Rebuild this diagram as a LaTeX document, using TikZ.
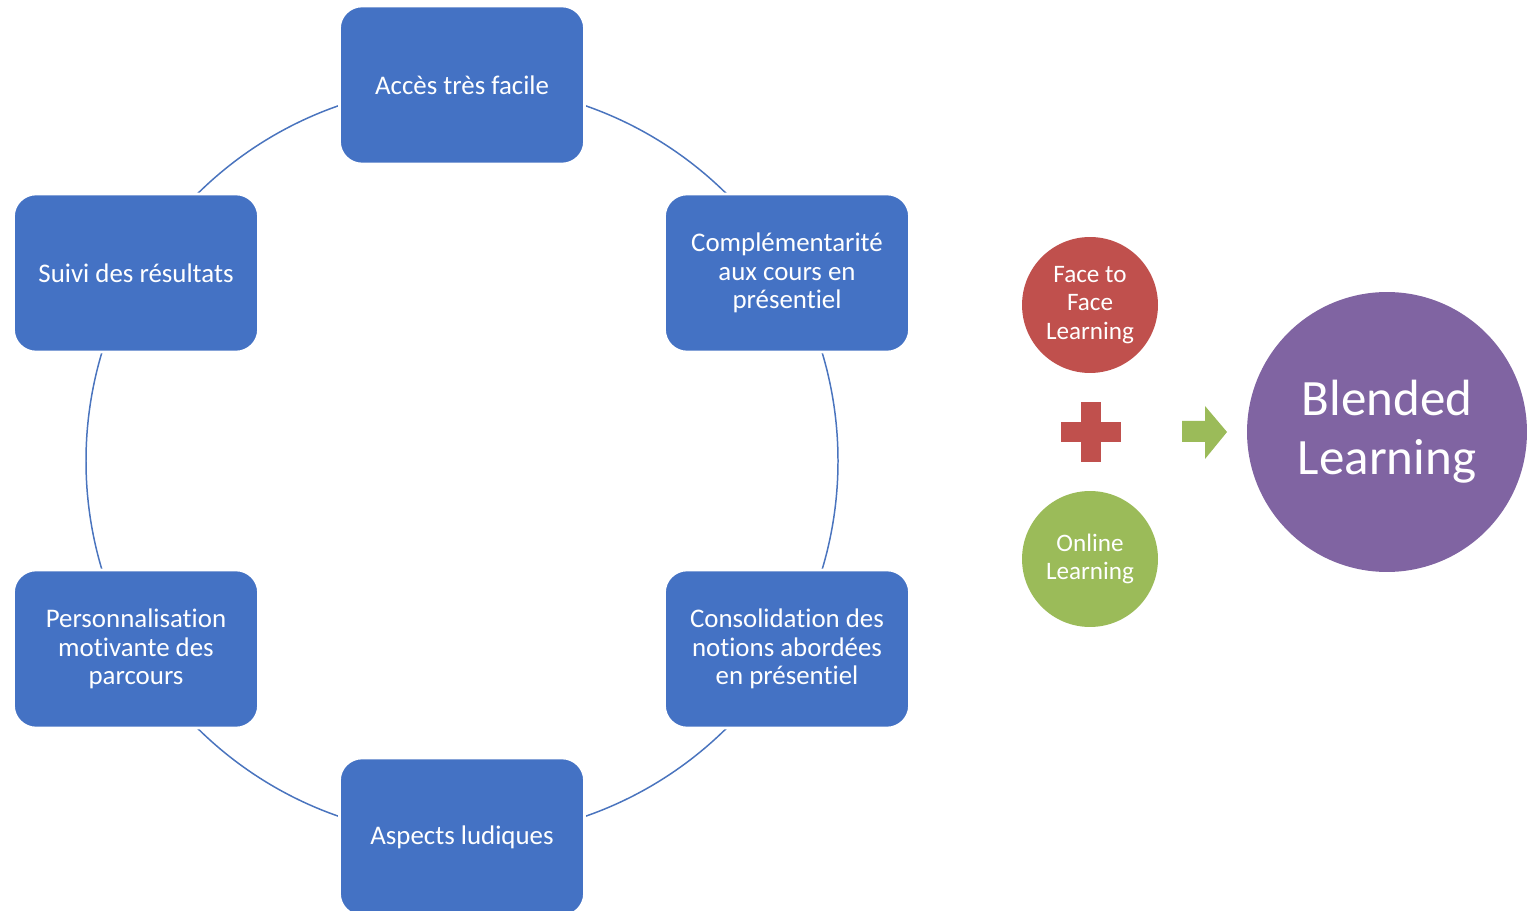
\documentclass[tikz,border=0pt]{standalone}
\usepackage{fontspec}
\setmainfont{Carlito}[RawFeature=-liga]
\usetikzlibrary{positioning}
\definecolor{boxblue}{HTML}{4472C4}
\definecolor{ringblue}{HTML}{4A74BE}
\definecolor{facered}{HTML}{C0504D}
\definecolor{onlinegreen}{HTML}{9BBB59}
\definecolor{blendpurple}{HTML}{8064A2}

\begin{document}
\begin{tikzpicture}[x=0.02cm, y=-0.02cm,
  stage/.style={draw=white, line width=1.5pt, fill=boxblue, rounded corners=0.45cm, minimum width=4.9cm, minimum height=3.16cm, align=center, text=white, font=\fontsize{15.3}{16.4}\selectfont},
  mode/.style={circle, fill=#1, minimum size=2.72cm, inner sep=0pt, align=center, text=white, font=\fontsize{14.3}{16.4}\selectfont},
  ring/.style={draw=ringblue, line width=0.85pt}]
\useasboundingbox (0,0) rectangle (1534,911);

% Cycle
\coordinate (hub) at (462,461);
\draw[ring] (hub) circle[radius=376];
\node (acces) at (462,85) [stage] {Accès très facile};
\node (compl) at (787,273) [stage] {Complémentarité\\aux cours en\\présentiel};
\node (conso) at (787,649) [stage] {Consolidation des\\notions abordées\\en présentiel};
\node (ludi) at (462,837) [stage] {Aspects ludiques};
\node (perso) at (136,649) [stage] {Personnalisation\\motivante des\\parcours};
\node (suivi) at (136,273) [stage] {Suivi des résultats};

% Blended side
\node (face) at (1090,305) [mode=facered] {Face to\\Face\\Learning};
\node (online) at (1090,559) [mode=onlinegreen] {Online\\Learning};
\fill[facered] (1061,422) rectangle (1121,442);
\fill[facered] (1081,402) rectangle (1101,462);
\fill[onlinegreen] (1182,421) -- (1205,421) -- (1205,406) -- (1227,432) -- (1205,459) -- (1205,442) -- (1182,442) -- cycle;
\node (blend) at (1387,432) [circle, fill=blendpurple, minimum size=5.6cm, inner sep=0pt, align=center, text=white, font=\fontsize{29}{33.5}\selectfont] {Blended\\Learning};
\end{tikzpicture}
\end{document}
